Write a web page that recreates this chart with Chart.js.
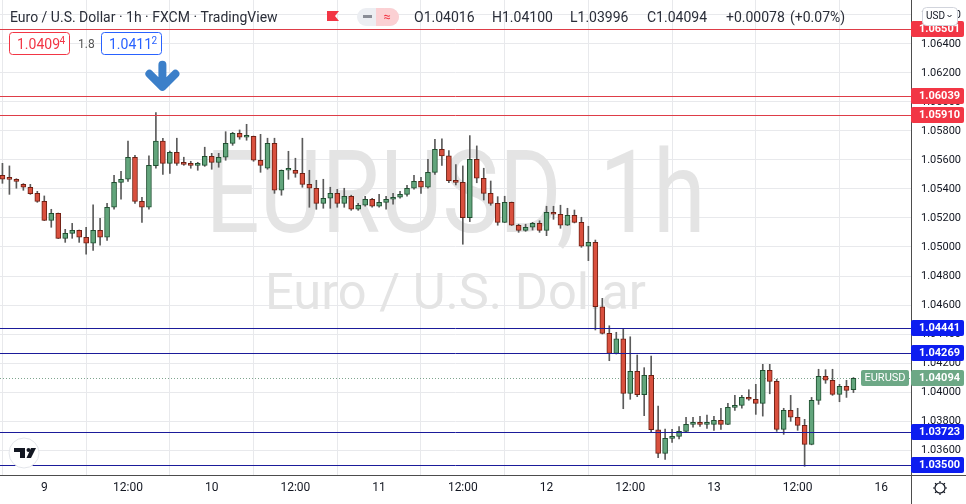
<!DOCTYPE html>
<html>
<head>
<meta charset="utf-8">
<script src="https://cdn.jsdelivr.net/npm/chart.js@4/dist/chart.umd.min.js"></script>
<style>
  html, body { margin: 0; padding: 0; background: #fff; }
  canvas { display: block; }
</style>
</head>
<body>
<canvas id="chart" width="966" height="504"></canvas>
<script>
// hourly EURUSD candles (oldest first)
var opens = [1.05495,1.05467,1.05467,1.05432,1.05412,1.05370,1.05315,1.05184,1.05232,1.05060,
  1.05094,1.05115,1.05067,1.05026,1.05115,1.05067,1.05274,1.05446,1.05467,1.05619,
  1.05315,1.05274,1.05560,1.05731,1.05577,1.05653,1.05577,1.05570,1.05563,1.05563,
  1.05626,1.05584,1.05619,1.05715,1.05784,1.05757,1.05763,1.05598,1.05543,1.05715,
  1.05391,1.05529,1.05529,1.05508,1.05432,1.05405,1.05301,1.05336,1.05370,1.05301,
  1.05350,1.05260,1.05288,1.05329,1.05281,1.05308,1.05329,1.05343,1.05363,1.05405,
  1.05453,1.05412,1.05515,1.05674,1.05628,1.05457,1.05446,1.05202,1.05605,1.05474,
  1.05370,1.05301,1.05170,1.05308,1.05150,1.05115,1.05136,1.05163,1.05115,1.05239,
  1.05226,1.05150,1.05219,1.05170,1.05005,1.05032,1.04588,1.04405,1.04267,1.04366,
  1.03991,1.04143,1.03981,1.04115,1.03740,1.03577,1.03681,1.03694,1.03729,1.03777,
  1.03786,1.03777,1.03777,1.03805,1.03777,1.03894,1.03908,1.03963,1.03950,1.03922,
  1.04150,1.04074,1.03743,1.03874,1.03826,1.03770,1.03639,1.03943,1.04108,1.04081,
  1.03984,1.04039,1.04016];
var highs = [1.05577,1.05559,1.05471,1.05437,1.05432,1.05384,1.05352,1.05260,1.05234,1.05122,
  1.05163,1.05117,1.05136,1.05290,1.05198,1.05301,1.05495,1.05522,1.05731,1.05632,
  1.05343,1.05628,1.05926,1.05750,1.05662,1.05750,1.05619,1.05591,1.05584,1.05688,
  1.05646,1.05646,1.05795,1.05791,1.05807,1.05846,1.05765,1.05777,1.05750,1.05750,
  1.05531,1.05660,1.05612,1.05750,1.05529,1.05460,1.05467,1.05412,1.05398,1.05405,
  1.05357,1.05301,1.05350,1.05336,1.05363,1.05350,1.05370,1.05384,1.05426,1.05495,
  1.05481,1.05605,1.05743,1.05745,1.05664,1.05568,1.05559,1.05768,1.05697,1.05543,
  1.05455,1.05347,1.05350,1.05310,1.05157,1.05157,1.05170,1.05181,1.05281,1.05281,
  1.05288,1.05267,1.05255,1.05205,1.05143,1.05048,1.04646,1.04457,1.04412,1.04439,
  1.04381,1.04255,1.04168,1.04248,1.03903,1.03745,1.03743,1.03761,1.03826,1.03826,
  1.03832,1.03841,1.03832,1.03888,1.03922,1.03977,1.03977,1.04016,1.04053,1.04191,
  1.04191,1.04088,1.03888,1.03977,1.03888,1.03812,1.03963,1.04157,1.04154,1.04157,
  1.04053,1.04081,1.04100];
var lows = [1.05439,1.05363,1.05405,1.05391,1.05363,1.05308,1.05182,1.05136,1.05058,1.05032,
  1.05060,1.05032,1.04950,1.04977,1.05012,1.05046,1.05260,1.05329,1.05453,1.05301,
  1.05170,1.05260,1.05543,1.05501,1.05508,1.05563,1.05563,1.05543,1.05529,1.05556,
  1.05536,1.05550,1.05598,1.05701,1.05743,1.05736,1.05591,1.05515,1.05536,1.05370,
  1.05357,1.05467,1.05481,1.05412,1.05274,1.05260,1.05267,1.05267,1.05274,1.05274,
  1.05253,1.05253,1.05281,1.05274,1.05274,1.05260,1.05295,1.05336,1.05350,1.05398,
  1.05370,1.05405,1.05501,1.05563,1.05443,1.05428,1.05019,1.05175,1.05443,1.05324,
  1.05288,1.05150,1.05168,1.05148,1.05101,1.05108,1.05117,1.05101,1.05078,1.05191,
  1.05129,1.05148,1.05166,1.04998,1.04906,1.04428,1.04400,1.04216,1.04262,1.03885,
  1.03950,1.03968,1.03837,1.03722,1.03547,1.03536,1.03653,1.03676,1.03722,1.03757,
  1.03763,1.03750,1.03736,1.03743,1.03775,1.03874,1.03888,1.03943,1.03846,1.03834,
  1.03988,1.03729,1.03708,1.03798,1.03736,1.03488,1.03636,1.03915,1.04060,1.03977,
  1.03933,1.03963,1.03996];
var closes = [1.05467,1.05466,1.05453,1.05412,1.05368,1.05315,1.05184,1.05232,1.05060,1.05094,
  1.05115,1.05067,1.05026,1.05115,1.05067,1.05274,1.05446,1.05467,1.05619,1.05315,
  1.05274,1.05563,1.05731,1.05577,1.05653,1.05577,1.05570,1.05563,1.05564,1.05626,
  1.05584,1.05619,1.05715,1.05784,1.05757,1.05763,1.05598,1.05563,1.05715,1.05391,
  1.05529,1.05530,1.05508,1.05432,1.05405,1.05301,1.05336,1.05370,1.05301,1.05350,
  1.05260,1.05288,1.05329,1.05281,1.05308,1.05329,1.05343,1.05363,1.05405,1.05453,
  1.05412,1.05515,1.05674,1.05628,1.05457,1.05446,1.05202,1.05605,1.05474,1.05370,
  1.05301,1.05170,1.05308,1.05150,1.05115,1.05136,1.05163,1.05115,1.05239,1.05226,
  1.05150,1.05219,1.05170,1.05005,1.05032,1.04588,1.04405,1.04267,1.04366,1.03991,
  1.04143,1.03981,1.04115,1.03740,1.03577,1.03681,1.03694,1.03729,1.03777,1.03786,
  1.03777,1.03778,1.03805,1.03777,1.03894,1.03908,1.03963,1.03950,1.03922,1.04150,
  1.04074,1.03743,1.03874,1.03826,1.03770,1.03639,1.03943,1.04108,1.04081,1.03984,
  1.04039,1.04012,1.04094];

// time axis: candle index of each label
var timeTickIdx = [6, 18, 30, 42, 54, 66, 78, 90, 102, 114, 126];
var timeTickLabels = ['9', '12:00', '10', '12:00', '11', '12:00', '12', '12:00', '13', '12:00', '16'];
var priceTicks = [1.036, 1.038, 1.040, 1.042, 1.044, 1.046, 1.048, 1.050, 1.052, 1.054,
  1.056, 1.058, 1.060, 1.062, 1.064, 1.066];

// drawn levels
var redLevels = [1.06501, 1.06039, 1.05910];
var blueLevels = [1.04441, 1.04269, 1.03723, 1.03500];
var lastPrice = 1.04094;
var arrowIdx = 22;
var arrowTipPrice = 1.0607;

var idx = opens.map(function(o, i) { return i; });
var isUp = idx.map(function(i) { return closes[i] >= opens[i]; });

var UP_FILL = '#62a57c', UP_LINE = '#1f4f30';
var DN_FILL = '#d9503e', DN_LINE = '#6e2014';

function fitText(ctx, text, cx, baseline, capPx, widthPx) {
  var size = capPx / 0.711;
  ctx.font = size.toFixed(1) + 'px Roboto';
  var w = ctx.measureText(text).width;
  ctx.save();
  ctx.translate(cx, baseline);
  ctx.scale(widthPx / w, 1);
  ctx.textAlign = 'center';
  ctx.textBaseline = 'alphabetic';
  ctx.fillText(text, 0, 0);
  ctx.restore();
}

function roundRect(ctx, x, y, w, h, r) {
  ctx.beginPath();
  ctx.moveTo(x + r, y);
  ctx.arcTo(x + w, y, x + w, y + h, r);
  ctx.arcTo(x + w, y + h, x, y + h, r);
  ctx.arcTo(x, y + h, x, y, r);
  ctx.arcTo(x, y, x + w, y, r);
  ctx.closePath();
}

function priceTag(ctx, y, bg, text) {
  ctx.fillStyle = bg;
  roundRect(ctx, 911, Math.round(y) - 8, 53, 16, 2);
  ctx.fill();
  ctx.fillStyle = '#fff';
  ctx.font = 'bold 11px Roboto';
  ctx.textAlign = 'left';
  ctx.textBaseline = 'middle';
  ctx.fillText(text, 919, Math.round(y) + 0.5);
}

var overlay = {
  id: 'overlay',
  beforeDatasetsDraw: function(chart) {
    var ctx = chart.ctx, a = chart.chartArea, ys = chart.scales.y;
    ctx.save();
    ctx.beginPath();
    ctx.rect(a.left, a.top, a.right - a.left, a.bottom - a.top);
    ctx.clip();
    // watermark
    ctx.fillStyle = '#e4e4e4';
    fitText(ctx, 'EURUSD, 1h', 455.5, 232, 82, 500);
    fitText(ctx, 'Euro / U.S. Dollar', 455.5, 309, 36, 381);
    // last price dotted line
    var yp = Math.round(ys.getPixelForValue(lastPrice)) + 0.5;
    ctx.strokeStyle = '#7fa58e';
    ctx.lineWidth = 1;
    ctx.setLineDash([1, 2]);
    ctx.beginPath();
    ctx.moveTo(a.left, yp);
    ctx.lineTo(a.right, yp);
    ctx.stroke();
    ctx.restore();
  },
  afterDatasetsDraw: function(chart) {
    var ctx = chart.ctx, a = chart.chartArea, ys = chart.scales.y, xs = chart.scales.x;
    ctx.save();
    ctx.lineWidth = 1;
    redLevels.forEach(function(v) {
      var y = Math.round(ys.getPixelForValue(v)) + 0.5;
      ctx.strokeStyle = '#de3d47';
      ctx.beginPath(); ctx.moveTo(a.left, y); ctx.lineTo(a.right, y); ctx.stroke();
    });
    blueLevels.forEach(function(v) {
      var y = Math.round(ys.getPixelForValue(v)) + 0.5;
      ctx.strokeStyle = '#1b1b9a';
      ctx.beginPath(); ctx.moveTo(a.left, y); ctx.lineTo(a.right, y); ctx.stroke();
    });
    // arrow marker above the high
    var ax = xs.getPixelForValue(arrowIdx) + 6.5;
    var ay = ys.getPixelForValue(arrowTipPrice);
    ctx.strokeStyle = '#3b7fc9';
    ctx.lineWidth = 8;
    ctx.lineCap = 'round';
    ctx.lineJoin = 'round';
    ctx.beginPath();
    ctx.moveTo(ax, ay - 27); ctx.lineTo(ax, ay - 6);
    ctx.moveTo(ax - 13, ay - 18); ctx.lineTo(ax, ay - 5); ctx.lineTo(ax + 13, ay - 18);
    ctx.stroke();
    ctx.restore();
  },
  afterDraw: function(chart) {
    var ctx = chart.ctx, a = chart.chartArea, ys = chart.scales.y;
    ctx.save();
    // axis frame extensions
    ctx.strokeStyle = '#4d4d4d';
    ctx.lineWidth = 1;
    ctx.beginPath();
    ctx.moveTo(a.right + 0.5, a.top); ctx.lineTo(a.right + 0.5, 504);
    ctx.moveTo(0, a.bottom + 0.5); ctx.lineTo(966, a.bottom + 0.5);
    ctx.stroke();

    // price tags on the axis
    redLevels.forEach(function(v) { priceTag(ctx, ys.getPixelForValue(v), '#f23645', v.toFixed(5)); });
    blueLevels.forEach(function(v) { priceTag(ctx, ys.getPixelForValue(v), '#0d1df0', v.toFixed(5)); });
    var yl = Math.round(ys.getPixelForValue(lastPrice));
    ctx.fillStyle = '#6da886';
    roundRect(ctx, 861, yl - 8, 48, 16, 2); ctx.fill();
    priceTag(ctx, yl, '#6da886', lastPrice.toFixed(5));
    ctx.fillStyle = '#fff';
    ctx.font = '11px Roboto';
    ctx.textAlign = 'center';
    ctx.fillText('EURUSD', 885, yl + 0.5);

    // currency button
    ctx.fillStyle = '#fff';
    roundRect(ctx, 922.5, 7.5, 35, 18, 4); ctx.fill();
    ctx.strokeStyle = '#d1d4dc'; ctx.stroke();
    ctx.fillStyle = '#131722';
    ctx.font = '10px Roboto';
    ctx.textAlign = 'left';
    ctx.textBaseline = 'middle';
    ctx.fillText('USD', 926, 16.5);
    ctx.strokeStyle = '#131722';
    ctx.beginPath(); ctx.moveTo(947.5, 15); ctx.lineTo(949.5, 17); ctx.lineTo(951.5, 15); ctx.stroke();

    // header
    ctx.fillStyle = '#2a2e39';
    ctx.font = '14px Roboto';
    ctx.textBaseline = 'alphabetic';
    ctx.fillText('Euro / U.S. Dollar \u00b7 1h \u00b7 FXCM \u00b7 TradingView', 10, 22);
    ctx.fillStyle = '#f23645';
    ctx.beginPath();
    ctx.moveTo(327, 11); ctx.lineTo(339, 11); ctx.lineTo(335, 16); ctx.lineTo(339, 21); ctx.lineTo(327, 21);
    ctx.closePath(); ctx.fill();
    ctx.fillStyle = '#eceef2';
    roundRect(ctx, 357, 8, 42, 18, 9); ctx.fill();
    ctx.fillStyle = '#fbd0d3';
    roundRect(ctx, 376, 8, 23, 18, 9); ctx.fill();
    ctx.fillRect(376, 8, 8, 18);
    ctx.fillStyle = '#8a8d96';
    ctx.fillRect(363, 15, 9, 3);
    ctx.fillStyle = '#f23645';
    ctx.font = '13px Roboto';
    ctx.textAlign = 'center';
    ctx.fillText('\u2248', 387, 21);
    ctx.textAlign = 'left';
    ctx.fillStyle = '#2a2e39';
    ctx.font = '14px Roboto';
    var items = ['O1.04016', 'H1.04100', 'L1.03996', 'C1.04094', '+0.00078', '(+0.07%)'];
    var itemX = [414, 492, 570, 647, 726, 790];
    items.forEach(function(t, i) { ctx.fillText(t, itemX[i], 22); });

    // order buttons
    ctx.lineWidth = 1;
    ctx.fillStyle = '#fff';
    roundRect(ctx, 9.5, 32.5, 60, 22, 3); ctx.fill();
    ctx.strokeStyle = '#f23645'; ctx.stroke();
    roundRect(ctx, 101.5, 32.5, 60, 22, 3); ctx.fill();
    ctx.strokeStyle = '#2962ff'; ctx.stroke();
    ctx.font = '14px Roboto';
    ctx.fillStyle = '#f23645';
    ctx.fillText('1.0409', 17, 49);
    ctx.font = '10px Roboto';
    ctx.fillText('4', 59.5, 44);
    ctx.fillStyle = '#2962ff';
    ctx.font = '14px Roboto';
    ctx.fillText('1.0411', 109, 49);
    ctx.font = '10px Roboto';
    ctx.fillText('2', 151.5, 44);
    ctx.fillStyle = '#555';
    ctx.font = '12px Roboto';
    ctx.fillText('1.8', 78, 48);

    // logo badge
    ctx.fillStyle = '#fff';
    ctx.beginPath(); ctx.arc(24, 453, 15, 0, Math.PI * 2); ctx.fill();
    ctx.strokeStyle = '#e3e5ea'; ctx.stroke();
    ctx.fillStyle = '#131722';
    ctx.fillRect(14, 448, 11, 4);
    ctx.fillRect(20, 448, 5, 10);
    ctx.beginPath(); ctx.arc(28.5, 450, 2, 0, Math.PI * 2); ctx.fill();
    ctx.beginPath();
    ctx.moveTo(31, 448); ctx.lineTo(36, 448); ctx.lineTo(31, 458); ctx.lineTo(26.5, 458);
    ctx.closePath(); ctx.fill();

    // settings gear
    ctx.strokeStyle = '#131722';
    ctx.lineWidth = 1.2;
    ctx.beginPath(); ctx.arc(940, 488, 5, 0, Math.PI * 2); ctx.stroke();
    for (var k = 0; k < 8; k++) {
      var t = k * Math.PI / 4;
      ctx.beginPath();
      ctx.moveTo(940 + Math.cos(t) * 5, 488 + Math.sin(t) * 5);
      ctx.lineTo(940 + Math.cos(t) * 7, 488 + Math.sin(t) * 7);
      ctx.stroke();
    }
    ctx.restore();
  }
};

Chart.defaults.font.family = 'Roboto, "Noto Sans", sans-serif';
Chart.defaults.color = '#131722';

new Chart(document.getElementById('chart').getContext('2d'), {
  type: 'bar',
  data: {
    datasets: [
      {
        label: 'body',
        order: 0,
        data: idx.map(function(i) {
          return { x: i, y: [Math.min(opens[i], closes[i]), Math.max(opens[i], closes[i])] };
        }),
        backgroundColor: idx.map(function(i) { return isUp[i] ? UP_FILL : DN_FILL; }),
        borderColor: idx.map(function(i) { return isUp[i] ? UP_LINE : DN_LINE; }),
        borderWidth: 1,
        borderSkipped: false,
        barThickness: 5,
        minBarLength: 2,
        grouped: false
      },
      {
        label: 'wick',
        order: 1,
        data: idx.map(function(i) { return { x: i, y: [lows[i], highs[i]] }; }),
        backgroundColor: '#5b5b5b',
        borderWidth: 0,
        barThickness: 1,
        grouped: false
      }
    ]
  },
  options: {
    responsive: false,
    animation: false,
    events: [],
    layout: { padding: 0 },
    plugins: { legend: { display: false }, tooltip: { enabled: false } },
    scales: {
      x: {
        type: 'linear',
        min: -0.35,
        max: 130.25,
        offset: false,
        afterBuildTicks: function(scale) {
          scale.ticks = timeTickIdx.map(function(v) { return { value: v }; });
        },
        afterFit: function(scale) {
          scale.height = 29;
          scale.paddingLeft = 0;
          scale.paddingRight = 0;
        },
        grid: { color: '#e8e9ec', drawTicks: false },
        border: { display: false },
        ticks: {
          autoSkip: false,
          maxRotation: 0,
          padding: 6,
          font: { size: 12 },
          color: '#131722',
          callback: function(v, i) { return timeTickLabels[i]; }
        }
      },
      y: {
        type: 'linear',
        position: 'right',
        min: 1.03428,
        max: 1.06703,
        afterBuildTicks: function(scale) {
          scale.ticks = priceTicks.map(function(v) { return { value: v }; });
        },
        afterFit: function(scale) {
          scale.width = 55;
          scale.paddingTop = 0;
          scale.paddingBottom = 0;
        },
        grid: { color: '#e8e9ec', drawTicks: false },
        border: { display: false },
        ticks: {
          autoSkip: false,
          padding: 10,
          font: { size: 11 },
          color: '#131722',
          callback: function(v) { return v.toFixed(5); }
        }
      }
    }
  },
  plugins: [overlay]
});
</script>
</body>
</html>
